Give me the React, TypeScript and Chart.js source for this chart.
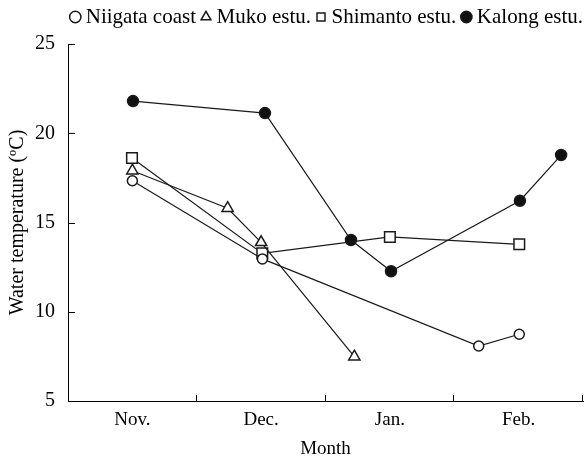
import React, { useEffect, useRef } from 'react';
import { Chart, registerables } from 'chart.js';

Chart.register(...registerables);

const months = ['Nov.', 'Dec.', 'Jan.', 'Feb.'];
const monthCenters = [0.5, 1.5, 2.5, 3.5];
const monthBoundaries = [1, 2, 3, 4];
const yTickValues = [5, 10, 15, 20, 25];

const niigataX = [0.5, 1.51, 3.19, 3.505];
const niigataY = [17.34, 12.96, 8.08, 8.74];

const mukoX = [0.5, 1.24, 1.5, 2.224];
const mukoY = [17.9, 15.8, 13.89, 7.48];

const shimantoX = [0.497, 1.509, 2.5, 3.505];
const shimantoY = [18.61, 13.27, 14.19, 13.78];

const kalongX = [0.505, 1.53, 2.198, 2.509, 3.51, 3.83];
const kalongY = [21.8, 21.13, 14.02, 12.27, 16.22, 18.78];

const FONT = "'Liberation Serif', 'Times New Roman', serif";

const pts = (xs: number[], ys: number[]) => xs.map((x, i) => ({ x, y: ys[i] }));

const innerTicks = {
  id: 'innerTicks',
  afterDraw(chart: any) {
    const { ctx } = chart;
    const x = chart.scales.x;
    const y = chart.scales.y;
    ctx.save();
    ctx.strokeStyle = '#000';
    ctx.lineWidth = 1;
    ctx.beginPath();
    monthBoundaries.forEach((v) => {
      const px = Math.round(x.getPixelForValue(v)) - 0.5;
      ctx.moveTo(px, y.bottom);
      ctx.lineTo(px, y.bottom - 6);
    });
    yTickValues.forEach((v) => {
      const py = Math.round(y.getPixelForValue(v)) + 0.5;
      ctx.moveTo(x.left, py);
      ctx.lineTo(x.left + 7, py);
    });
    ctx.stroke();
    ctx.restore();
  },
};

export default function App() {
  const ref = useRef<HTMLCanvasElement>(null);
  useEffect(() => {
    if (!ref.current) return;
    Chart.defaults.color = '#000';
    const common = {
      borderColor: '#1a1a1a',
      borderWidth: 1.2,
      pointBorderColor: '#1a1a1a',
      pointBorderWidth: 1.5,
      fill: false,
      tension: 0,
    };
    const chart = new Chart(ref.current, {
      type: 'line',
      data: {
        datasets: [
          {
            ...common,
            label: 'Niigata coast',
            data: pts(niigataX, niigataY),
            pointStyle: 'circle',
            pointRadius: 5,
            pointBackgroundColor: '#fff',
            backgroundColor: '#fff',
          },
          {
            ...common,
            label: 'Muko estu.',
            data: pts(mukoX, mukoY),
            pointStyle: 'triangle',
            pointRadius: 6.5,
            pointBackgroundColor: '#fff',
            backgroundColor: '#fff',
          },
          {
            ...common,
            label: 'Shimanto estu.',
            data: pts(shimantoX, shimantoY),
            pointStyle: 'rect',
            pointRadius: 7.5,
            pointBackgroundColor: '#fff',
            backgroundColor: '#fff',
          },
          {
            ...common,
            label: 'Kalong estu.',
            data: pts(kalongX, kalongY),
            pointStyle: 'circle',
            pointRadius: 5.5,
            pointBackgroundColor: '#111',
            backgroundColor: '#111',
          },
        ],
      },
      options: {
        animation: false,
        responsive: false,
        maintainAspectRatio: false,
        layout: { autoPadding: false, padding: { top: -3.5, right: -6, left: 0, bottom: 0 } },
        plugins: {
          tooltip: { enabled: false },
          legend: {
            display: true,
            position: 'top',
            align: 'end',
            weight: 3000,
            labels: {
              usePointStyle: true,
              boxWidth: 0.01,
              boxHeight: 8,
              padding: 10,
              color: '#000',
              font: { family: FONT, size: 21 },
            },
          },
          title: {
            display: true,
            text: '',
            weight: 500,
            font: { size: 1, lineHeight: 1 },
            padding: { top: 0, bottom: 5.5 },
          },
        },
        scales: {
          x: {
            type: 'linear',
            min: 0,
            max: 4,
            afterFit: (s: any) => {
              s.height = 60;
              s.paddingLeft = 0;
              s.paddingRight = 4;
            },
            afterBuildTicks: (s: any) => {
              s.ticks = monthCenters.map((v) => ({ value: v }));
            },
            grid: { display: true, drawOnChartArea: false, drawTicks: false },
            border: { display: true, color: '#000', width: 1 },
            ticks: {
              autoSkip: false,
              maxRotation: 0,
              padding: 8,
              color: '#000',
              font: { family: FONT, size: 19 },
              callback: (_v: any, i: number) => months[i],
            },
            title: {
              display: true,
              text: 'Month',
              color: '#000',
              font: { family: FONT, size: 19 },
              padding: { top: 0, bottom: 1 },
            },
          },
          y: {
            type: 'linear',
            min: 5,
            max: 25,
            afterFit: (s: any) => {
              s.width = 68;
            },
            afterBuildTicks: (s: any) => {
              s.ticks = yTickValues.map((v) => ({ value: v }));
            },
            grid: { display: true, drawOnChartArea: false, drawTicks: false },
            border: { display: true, color: '#000', width: 1 },
            ticks: {
              padding: 13,
              color: '#000',
              font: { family: FONT, size: 20 },
            },
            title: {
              display: true,
              text: 'Water temperature (ºC)',
              color: '#000',
              font: { family: FONT, size: 20 },
              padding: { top: 6, bottom: 0 },
            },
          },
        },
      },
      plugins: [innerTicks],
    });
    return () => chart.destroy();
  }, []);
  return (
    <div style={{ position: 'fixed', left: 0, top: 0, width: 587, height: 461, background: '#fff' }}>
      <canvas ref={ref} width={587} height={461} style={{ width: 587, height: 461 }} />
    </div>
  );
}
